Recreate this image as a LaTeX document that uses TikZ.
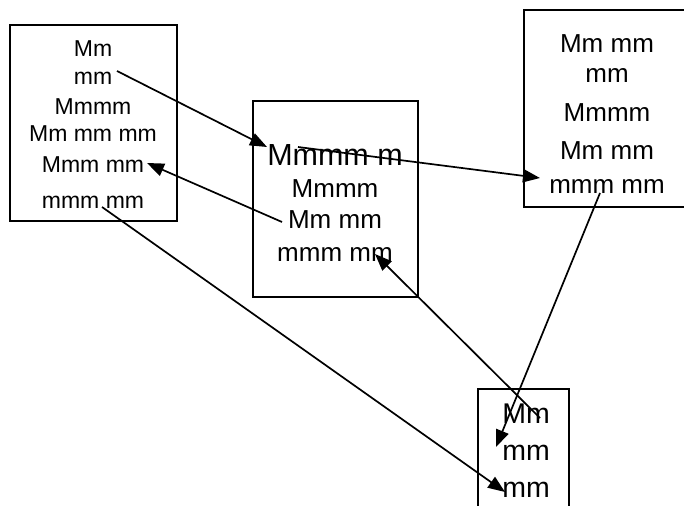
\documentclass[tikz,border=0pt]{standalone}
\usepackage{fontspec}
\setmainfont{Liberation Sans}
\usetikzlibrary{arrows.meta}
\begin{document}
\begin{tikzpicture}[x=1pt,y=-1pt,
  boxframe/.style={draw=black,line width=1.7pt},
  txa/.style={anchor=base,inner sep=0pt,font=\fontsize{23}{27}\selectfont},
  txb/.style={anchor=base,inner sep=0pt,font=\fontsize{26}{30}\selectfont},
  txbig/.style={anchor=base,inner sep=0pt,font=\fontsize{30.5}{34}\selectfont},
  txd/.style={anchor=base,inner sep=0pt,font=\fontsize{28.5}{32}\selectfont},
  conn/.style={draw=black,line width=1.7pt,-{Triangle[length=17pt,width=13pt]}}]
\useasboundingbox (0,0) rectangle (684,505);
\clip (0,0) rectangle (684,505);
% boxes (C and D run past the picture's edge)
\draw[boxframe] (10,25) rectangle (177,221);
\draw[boxframe] (253,101) rectangle (418,297);
\draw[boxframe] (700,10) -- (524,10) -- (524,207) -- (700,207);
\draw[boxframe] (478,520) -- (478,389) -- (569,389) -- (569,520);
% box A text
\node[txa] (a1) at (93,57) {Mm};
\node[txa] (a2) at (93,85) {mm};
\node[txa] (a3) at (93,115) {Mmmm};
\node[txa] (a4) at (93,142) {Mm mm mm};
\node[txa] (a5) at (93,172) {Mmm mm};
\node[txa] (a6) at (93,208) {mmm mm};
% box B text
\node[txbig] (b1) at (335,165) {Mmmm m};
\node[txb] (b2) at (335,197) {Mmmm};
\node[txb] (b3) at (335,228) {Mm mm};
\node[txb] (b4) at (335,261) {mmm mm};
% box C text
\node[txb] (c1) at (607,53) {Mm mm};
\node[txb] (c2) at (607,83) {mm};
\node[txb] (c3) at (607,122) {Mmmm};
\node[txb] (c4) at (607,160) {Mm mm};
\node[txb] (c5) at (607,193) {mmm mm};
% box D text
\node[txd] (d1) at (526,423) {Mm};
\node[txd] (d2) at (526,460) {mm};
\node[txd] (d3) at (526,497) {mm};
% connector end points
\coordinate (p1s) at (117,71);
\coordinate (p1e) at (267,147);
\coordinate (p2s) at (298,147);
\coordinate (p2e) at (540,178);
\coordinate (p3s) at (282,222);
\coordinate (p3e) at (147,163);
\coordinate (p4s) at (102,207);
\coordinate (p4e) at (505,492);
\coordinate (p5s) at (600,193);
\coordinate (p5e) at (496,447);
\coordinate (p6s) at (540,418);
\coordinate (p6e) at (375,254);
% connectors
\draw[conn] (p1s) -- (p1e);
\draw[conn] (p2s) -- (p2e);
\draw[conn] (p3s) -- (p3e);
\draw[conn] (p4s) -- (p4e);
\draw[conn] (p5s) -- (p5e);
\draw[conn] (p6s) -- (p6e);
\end{tikzpicture}
\end{document}
